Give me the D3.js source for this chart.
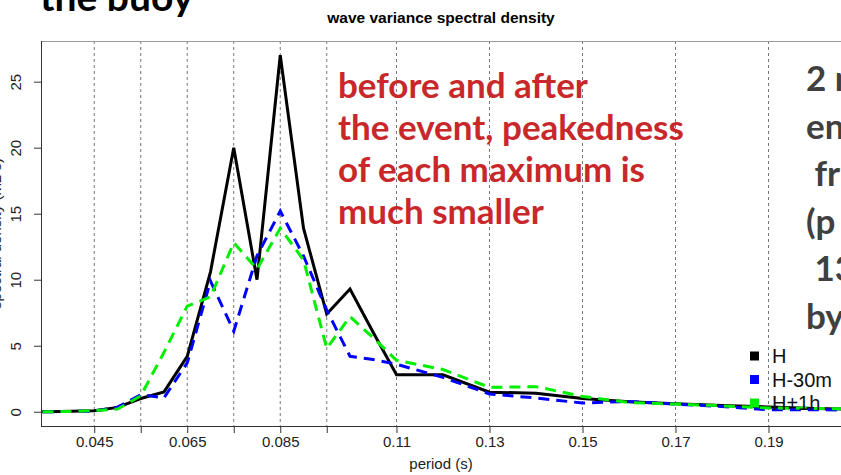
<!DOCTYPE html>
<html>
<head>
<meta charset="utf-8">
<script src="https://cdn.jsdelivr.net/npm/d3@7"></script>
<style>
  body { margin: 0; background: #fff; }
  svg { display: block; }
</style>
</head>
<body>
<div id="chart"></div>
<script>
// frequency bins and spectral values
var freq     = [0.03, 0.035, 0.04, 0.045, 0.05, 0.055, 0.06, 0.065, 0.07, 0.075, 0.08, 0.085, 0.09, 0.095, 0.1, 0.105, 0.11, 0.12, 0.13, 0.14, 0.15, 0.16, 0.17, 0.18, 0.19, 0.2, 0.21];
var valH     = [0, 0, 0.03, 0.08, 0.33, 1.0, 1.5, 4.2, 10.6, 20.0, 10.0, 27.0, 13.9, 7.4, 9.3, 6.0, 2.8, 2.8, 1.48, 1.4, 1.0, 0.75, 0.6, 0.48, 0.36, 0.24, 0.18];
var valH30   = [0, 0, 0.02, 0.05, 0.35, 1.29, 1.05, 3.7, 9.9, 6.1, 11.8, 15.2, 11.8, 7.7, 4.2, 3.95, 3.6, 2.6, 1.35, 1.04, 0.66, 0.78, 0.58, 0.4, 0.15, 0.15, 0.12];
var valH1    = [0, 0, 0.02, 0.08, 0.2, 1.2, 4.5, 8.0, 8.7, 12.8, 10.8, 13.9, 11.5, 4.8, 7.2, 5.6, 3.9, 3.2, 1.85, 1.9, 1.16, 0.7, 0.58, 0.45, 0.28, 0.25, 0.2];
var seriesNames = ["H", "H-30m", "H+1h"];

var gridTicks  = [0.045, 0.055, 0.065, 0.075, 0.085, 0.095, 0.11, 0.13, 0.15, 0.17, 0.19];
var labelTicks = [0.045, 0.065, 0.085, 0.11, 0.13, 0.15, 0.17, 0.19];
var yTicks     = [0, 5, 10, 15, 20, 25];

var noteLines = ["before and after", "the event, peakedness", "of each maximum is", "much smaller"];
var sideLines = ["2 m", "en", " fr", "(p", " 13", "by"];

var width = 841, height = 475;
var plot = { left: 41, right: 841, top: 41, bottom: 426 };

var svg = d3.select("#chart")
    .append("svg")
    .attr("width", width)
    .attr("height", height);

var x = d3.scaleLinear()
    .domain([0.03355, 0.20559])
    .range([plot.left, plot.right]);

var y = d3.scaleLinear()
    .domain([-1.08, 28.08])
    .range([plot.bottom, plot.top]);

// slide heading, cut by the top edge
svg.append("text")
    .attr("x", 40)
    .attr("y", 11)
    .style("font-family", "Lato, 'Open Sans', sans-serif")
    .style("font-weight", "bold")
    .style("font-size", "39px")
    .style("fill", "#000")
    .text("the buoy");

// chart title
svg.append("text")
    .attr("x", (plot.left + plot.right) / 2)
    .attr("y", 23)
    .style("text-anchor", "middle")
    .style("font-family", "'Liberation Sans', Arial, sans-serif")
    .style("font-weight", "bold")
    .style("font-size", "15.5px")
    .text("wave variance spectral density");

// dashed vertical grid
svg.append("g")
    .selectAll("line")
    .data(gridTicks)
    .enter()
    .append("line")
    .attr("x1", function (d) { return x(d); })
    .attr("x2", function (d) { return x(d); })
    .attr("y1", plot.top)
    .attr("y2", plot.bottom)
    .style("stroke", "#777")
    .style("stroke-width", 1)
    .style("stroke-dasharray", "3,3");

// frame
svg.append("line")
    .attr("x1", plot.left).attr("x2", plot.right)
    .attr("y1", plot.top + 0.5).attr("y2", plot.top + 0.5)
    .style("stroke", "#999");

// x axis
var xAxis = svg.append("g")
    .attr("transform", "translate(0," + plot.bottom + ")")
    .call(d3.axisBottom(x)
        .tickValues(gridTicks)
        .tickSize(7)
        .tickFormat(function (d) { return labelTicks.indexOf(d) >= 0 ? String(d) : ""; }));
xAxis.select(".domain").attr("d", "M" + plot.left + ",0.5H" + plot.right).style("stroke", "#333");
xAxis.selectAll(".tick line").style("stroke", "#333");
xAxis.selectAll(".tick text")
    .attr("y", 10)
    .style("font-family", "'Liberation Sans', Arial, sans-serif")
    .style("font-size", "15px")
    .style("fill", "#222");

// y axis
var yAxis = svg.append("g")
    .attr("transform", "translate(" + plot.left + ",0)")
    .call(d3.axisLeft(y).tickValues(yTicks).tickSize(7));
yAxis.select(".domain").attr("d", "M0.5," + plot.top + "V" + plot.bottom).style("stroke", "#333");
yAxis.selectAll(".tick line").style("stroke", "#333");
yAxis.selectAll(".tick text")
    .attr("x", null)
    .attr("dy", null)
    .attr("transform", "translate(-20,0) rotate(-90)")
    .style("text-anchor", "middle")
    .style("font-family", "'Liberation Sans', Arial, sans-serif")
    .style("font-size", "15px")
    .style("fill", "#222");

svg.append("text")
    .attr("x", (plot.left + plot.right) / 2)
    .attr("y", 469)
    .style("text-anchor", "middle")
    .style("font-family", "'Liberation Sans', Arial, sans-serif")
    .style("font-size", "15px")
    .style("fill", "#222")
    .text("period (s)");

svg.append("text")
    .attr("transform", "rotate(-90)")
    .attr("x", -(plot.top + plot.bottom) / 2)
    .attr("y", 1)
    .style("text-anchor", "middle")
    .style("font-family", "'Liberation Sans', Arial, sans-serif")
    .style("font-size", "15px")
    .style("fill", "#222")
    .text("spectral density (m2 s)");

// spectra
svg.append("clipPath")
    .attr("id", "plotclip")
    .append("rect")
    .attr("x", plot.left + 1)
    .attr("y", plot.top)
    .attr("width", plot.right - plot.left)
    .attr("height", plot.bottom - plot.top);

var series = [
    { name: seriesNames[0], values: valH,   color: "#000000", dash: null },
    { name: seriesNames[1], values: valH30, color: "#0000ff", dash: "11,7" },
    { name: seriesNames[2], values: valH1,  color: "#00ee00", dash: "11,7" }
];

var line = d3.line()
    .x(function (d, i) { return x(freq[i]); })
    .y(function (d) { return y(d); });

svg.append("g")
    .attr("clip-path", "url(#plotclip)")
    .selectAll("path")
    .data(series)
    .enter()
    .append("path")
    .attr("d", function (d) { return line(d.values); })
    .style("fill", "none")
    .style("stroke", function (d) { return d.color; })
    .style("stroke-width", 3)
    .style("stroke-linejoin", "miter")
    .style("stroke-dasharray", function (d) { return d.dash; });

// legend
var legend = svg.append("g")
    .attr("class", "legend")
    .attr("transform", "translate(750,356)");

legend.selectAll("rect")
    .data(series)
    .enter()
    .append("rect")
    .attr("x", 0)
    .attr("y", function (d, i) { return i * 23.5 - 4.5; })
    .attr("width", 9)
    .attr("height", 9)
    .style("fill", function (d) { return d.color; });

legend.selectAll("text")
    .data(series)
    .enter()
    .append("text")
    .attr("x", 22)
    .attr("y", function (d, i) { return i * 23.5 + 7; })
    .style("font-family", "'Liberation Sans', Arial, sans-serif")
    .style("font-size", "20px")
    .style("fill", "#111")
    .text(function (d) { return d.name; });

// annotation in red
var note = svg.append("g");
note.selectAll("text")
    .data(noteLines)
    .enter()
    .append("text")
    .attr("x", 338)
    .attr("y", function (d, i) { return 98 + i * 42; })
    .style("font-family", "Lato, 'Open Sans', sans-serif")
    .style("font-weight", "bold")
    .style("font-size", "35px")
    .style("fill", "#c8282a")
    .text(function (d) { return d; });

// side text running off the right edge
svg.append("g")
    .selectAll("text")
    .data(sideLines)
    .enter()
    .append("text")
    .attr("x", 806)
    .attr("y", function (d, i) { return 91 + i * 47.5; })
    .attr("xml:space", "preserve")
    .style("white-space", "pre")
    .style("font-family", "Lato, 'Open Sans', sans-serif")
    .style("font-weight", "bold")
    .style("font-size", "35px")
    .style("fill", "#404040")
    .text(function (d) { return d; });
</script>
</body>
</html>
